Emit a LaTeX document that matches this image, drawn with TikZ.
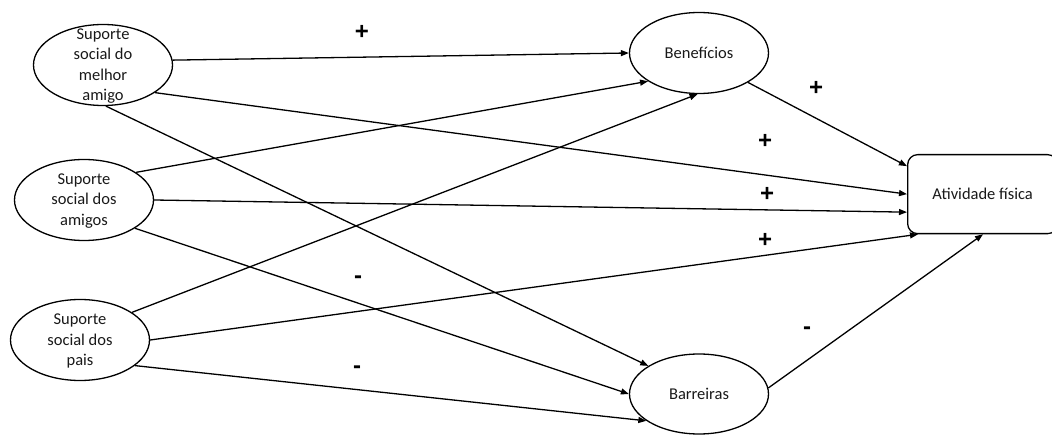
\documentclass[tikz,border=0pt]{standalone}
\usepackage{fontspec}
\setmainfont{Carlito}
\newfontfamily\signfont{Liberation Sans}
\usetikzlibrary{arrows.meta,shapes.geometric}
\begin{document}
\begin{tikzpicture}[x=1pt,y=-1pt,
  ell/.style={ellipse, draw, line width=1.3pt, minimum width=139pt, minimum height=81pt, inner sep=0pt, font=\fontsize{16.5}{20.5}\selectfont, text=black!90},
  txt/.style={align=center, font=\fontsize{16.5}{20.5}\selectfont, text=black!90, inner sep=0pt},
  conn/.style={line width=1.3pt, -{Triangle[length=8pt,width=6pt]}},
  sign/.style={font=\signfont\bfseries\fontsize{24}{24}\selectfont, inner sep=0pt}]
\useasboundingbox (0,0) rectangle (1052,435);
\clip (0,0) rectangle (1052,435);
% nodes
\node[ell] (ma) at (103,65) {};
\node[txt] (mat) at (103,66) {Suporte\\social do\\melhor\\amigo};
\node[ell] (sa) at (84,200) {};
\node[txt] (sat) at (84,201) {Suporte\\social dos\\amigos};
\node[ell] (pa) at (80,340) {};
\node[txt] (pat) at (80,341) {Suporte\\social dos\\pais};
\node[ell] (ben) at (699,53) {Benefícios};
\node[ell, minimum height=80pt] (bar) at (699,394) {Barreiras};
\node[draw, rounded corners=10pt, line width=1.3pt, minimum width=150pt, minimum height=79pt, anchor=north west, font=\fontsize{16.5}{20.5}\selectfont, text=black!90] (act) at (907,154) {Atividade física};
% connectors
\draw[conn] (ma.4) -- (ben.west);
\draw[conn] (ma.-28) -- (act.west);
\draw[conn] (ma.-86) -- (bar.151);
\draw[conn] (sa.28) -- (ben.-151);
\draw[conn] (sa.east) -- ([yshift=-18pt]act.west);
\draw[conn] (sa.-29) -- (bar.west);
\draw[conn] (pa.28) -- (ben.-92);
\draw[conn] (pa.east) -- ([xshift=11pt]act.south west);
\draw[conn] (pa.-25) -- (bar.-153);
\draw[conn] (ben.-31) -- ([yshift=28pt]act.west);
\draw[conn] (bar.5) -- ([xshift=76pt]act.south west);
% signs
\node[sign] (s1) at (362,32) {+};
\node[sign] (s2) at (816,88) {+};
\node[sign] (s3) at (765,141) {+};
\node[sign] (s4) at (767,194) {+};
\node[sign] (s5) at (765,240) {+};
\node[sign] (s6) at (358,280) {-};
\node[sign] (s7) at (357,370) {-};
\node[sign] (s8) at (807,331) {-};
\end{tikzpicture}
\end{document}
